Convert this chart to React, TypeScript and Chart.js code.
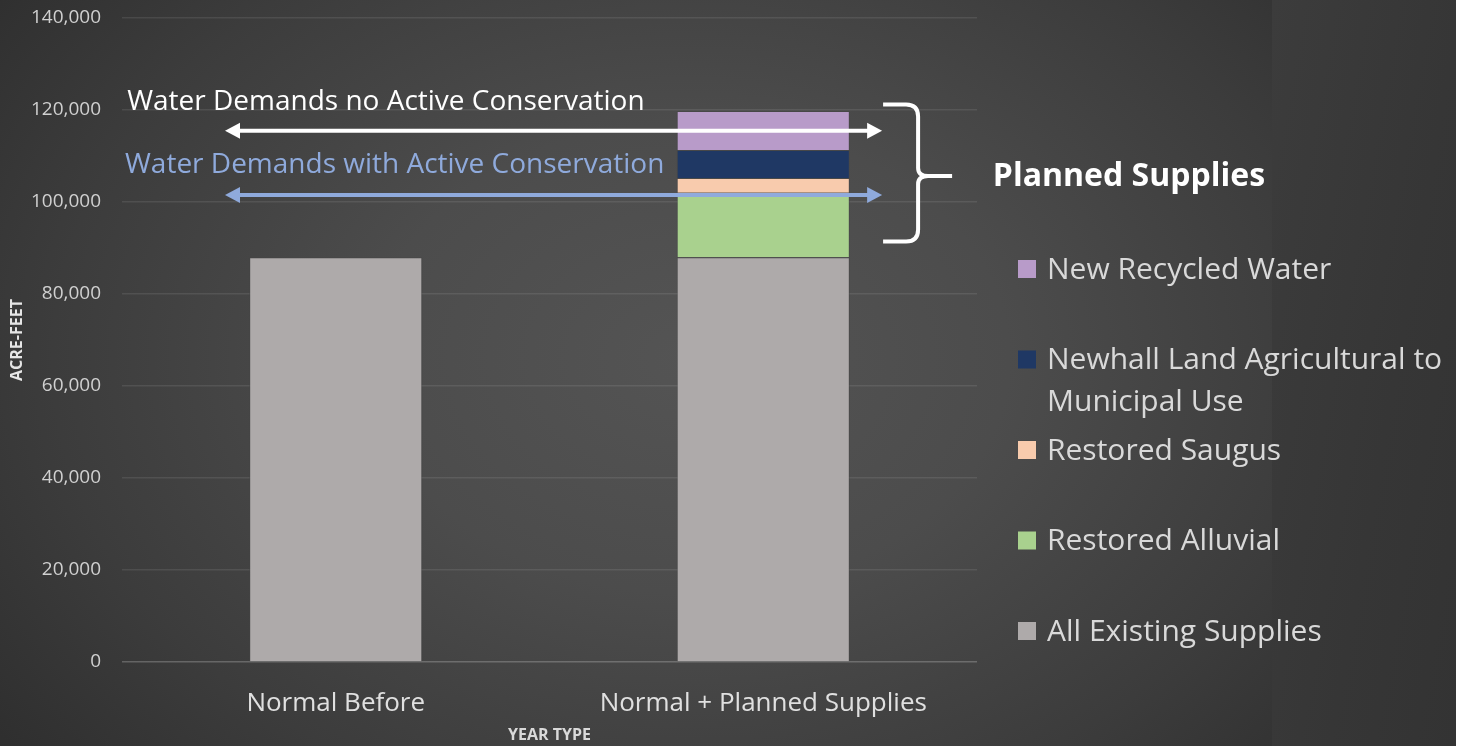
import React, { useEffect, useRef } from "react";
import { Chart, registerables } from "chart.js";

Chart.register(...registerables);

// ---------- data ----------
const categories = ["Normal Before", "Normal + Planned Supplies"];
const seriesNames = [
  "All Existing Supplies",
  "Restored Alluvial",
  "Restored Saugus",
  "Newhall Land Agricultural to Municipal Use",
  "New Recycled Water",
];
const legendLines = [
  ["All Existing Supplies"],
  ["Restored Alluvial"],
  ["Restored Saugus"],
  ["Newhall Land Agricultural to", "Municipal Use"],
  ["New Recycled Water"],
];
const allExistingSupplies = [88000, 88000];
const restoredAlluvial = [null, 14000];
const restoredSaugus = [null, 3200];
const newhallAgToMunicipal = [null, 6100];
const newRecycledWater = [null, 8500];
const seriesColors = ["#aeaaaa", "#a9d18e", "#f8cbad", "#1f3864", "#b89bc9"];

const yMin = 0;
const yMax = 140000;
const yStep = 20000;

const demandNoConservation = 115500;
const demandWithConservation = 101500;
const plannedBraceTop = 121200;
const plannedBraceBottom = 91400;
const noConservationLabel = "Water Demands no Active Conservation";
const withConservationLabel = "Water Demands with Active Conservation";
const plannedLabel = "Planned Supplies";
const xAxisTitle = "YEAR TYPE";
const yAxisTitle = "ACRE-FEET";

const FONT = "'Open Sans', 'Noto Sans', sans-serif";

function drawArrow(ctx: CanvasRenderingContext2D, x1: number, x2: number, y: number, color: string) {
  const head = 15;
  const half = 8;
  ctx.save();
  ctx.strokeStyle = color;
  ctx.fillStyle = color;
  ctx.lineWidth = 4;
  ctx.beginPath();
  ctx.moveTo(x1 + head - 2, y);
  ctx.lineTo(x2 - head + 2, y);
  ctx.stroke();
  ctx.beginPath();
  ctx.moveTo(x1, y);
  ctx.lineTo(x1 + head, y - half);
  ctx.lineTo(x1 + head, y + half);
  ctx.closePath();
  ctx.fill();
  ctx.beginPath();
  ctx.moveTo(x2, y);
  ctx.lineTo(x2 - head, y - half);
  ctx.lineTo(x2 - head, y + half);
  ctx.closePath();
  ctx.fill();
  ctx.restore();
}

const annotationPlugin = {
  id: "annotations",
  afterDraw(chart: any) {
    const ctx: CanvasRenderingContext2D = chart.ctx;
    const x = chart.scales.x;
    const y = chart.scales.y;
    const ax1 = x.getPixelForValue(-0.259);
    const ax2 = x.getPixelForValue(1.278);
    const yNo = y.getPixelForValue(demandNoConservation);
    const yWith = y.getPixelForValue(demandWithConservation);

    ctx.save();
    ctx.textBaseline = "middle";
    ctx.textAlign = "left";
    ctx.font = `28px ${FONT}`;
    ctx.fillStyle = "#ffffff";
    ctx.fillText(noConservationLabel, x.getPixelForValue(-0.488), yNo - 29);
    ctx.fillStyle = "#8faadc";
    ctx.fillText(withConservationLabel, x.getPixelForValue(-0.493), yWith - 30);
    ctx.restore();

    drawArrow(ctx, ax1, ax2, yNo, "#ffffff");
    drawArrow(ctx, ax1, ax2, yWith, "#8faadc");

    // curly brace
    const bx = ax2 + 1;
    const bt = y.getPixelForValue(plannedBraceTop);
    const bb = y.getPixelForValue(plannedBraceBottom);
    const bm = (bt + bb) / 2 + 3;
    const vx = bx + 35;
    const tip = bx + 69;
    ctx.save();
    ctx.strokeStyle = "#ffffff";
    ctx.lineWidth = 4;
    ctx.lineJoin = "round";
    ctx.beginPath();
    ctx.moveTo(bx, bt);
    ctx.lineTo(vx - 12, bt);
    ctx.quadraticCurveTo(vx, bt, vx, bt + 12);
    ctx.lineTo(vx, bm - 8);
    ctx.quadraticCurveTo(vx, bm, vx + 10, bm);
    ctx.lineTo(tip, bm);
    ctx.moveTo(vx + 10, bm);
    ctx.quadraticCurveTo(vx, bm, vx, bm + 8);
    ctx.lineTo(vx, bb - 12);
    ctx.quadraticCurveTo(vx, bb, vx - 12, bb);
    ctx.lineTo(bx, bb);
    ctx.stroke();
    ctx.restore();

    ctx.save();
    ctx.font = `bold 32px ${FONT}`;
    ctx.fillStyle = "#ffffff";
    ctx.textBaseline = "middle";
    ctx.fillText(plannedLabel, x.getPixelForValue(1.537), bm + 1);
    ctx.restore();

    // legend (top item = last dataset)
    const legendX = 1018;
    const legendY0 = 269;
    const legendGap = 90.5;
    ctx.save();
    ctx.font = `30px ${FONT}`;
    ctx.textBaseline = "middle";
    ctx.textAlign = "left";
    const n = chart.data.datasets.length;
    for (let k = 0; k < n; k++) {
      const i = n - 1 - k;
      const ds = chart.data.datasets[i];
      const cy = legendY0 + k * legendGap;
      ctx.fillStyle = ds.backgroundColor;
      ctx.fillRect(legendX, cy - 9, 18, 18);
      ctx.fillStyle = "#d9d9d9";
      const lines = legendLines[i];
      lines.forEach((ln, j) => ctx.fillText(ln, legendX + 29, cy + 1 + j * 42));
    }
    ctx.restore();
  },
};

export default function App() {
  const ref = useRef<HTMLCanvasElement>(null);

  useEffect(() => {
    const datasetValues = [
      allExistingSupplies,
      restoredAlluvial,
      restoredSaugus,
      newhallAgToMunicipal,
      newRecycledWater,
    ];
    const chart = new Chart(ref.current!, {
      type: "bar",
      data: {
        labels: categories,
        datasets: datasetValues.map((vals, i) => ({
          label: seriesNames[i],
          data: vals as any,
          backgroundColor: seriesColors[i],
          borderColor: "rgba(70,70,70,0.55)",
          borderWidth: 1,
          categoryPercentage: 1,
          barPercentage: 0.405,
        })),
      },
      options: {
        animation: false,
        responsive: false,
        devicePixelRatio: 1,
        layout: { padding: { left: 0, top: 18, right: 491, bottom: 0 } },
        plugins: {
          legend: { display: false },
          tooltip: { enabled: false },
        },
        scales: {
          x: {
            stacked: true,
            grid: { display: false, drawTicks: false },
            border: { display: false },
            ticks: {
              color: "#e0e0e0",
              font: { family: FONT, size: 26 },
              padding: 26,
            },
            title: {
              display: true,
              text: xAxisTitle,
              color: "#d9d9d9",
              font: { family: FONT, size: 16, weight: "bold" },
              padding: { top: 0, bottom: 1 },
            },
            afterFit: (s: any) => {
              s.height = 84;
              s.paddingLeft = 0;
              s.paddingRight = 0;
            },
          },
          y: {
            stacked: true,
            min: yMin,
            max: yMax,
            grid: {
              drawTicks: false,
              color: (c: any) => (c.tick && c.tick.value === 0 ? "rgba(255,255,255,0.22)" : "rgba(255,255,255,0.09)"),
              lineWidth: 1.5,
            },
            border: { display: false },
            ticks: {
              stepSize: yStep,
              color: "#d0d0d0",
              font: { family: FONT, size: 19 },
              padding: 21,
              callback: (v: any) => Number(v).toLocaleString("en-US"),
            },
            title: {
              display: true,
              text: yAxisTitle,
              color: "#e6e6e6",
              font: { family: FONT, size: 16, weight: "bold" },
              padding: { top: 8, bottom: 0 },
            },
            afterFit: (s: any) => {
              s.width = 122;
              s.paddingTop = 0;
              s.paddingBottom = 0;
            },
          },
        },
      },
      plugins: [annotationPlugin],
    });
    return () => chart.destroy();
  }, []);

  return (
    <div
      style={{
        position: "absolute",
        left: 0,
        top: 0,
        width: 1468,
        height: 746,
        overflow: "hidden",
        background:
          "radial-gradient(ellipse 62% 90% at 47% 48%, #545454 0%, #4c4c4c 35%, #3c3c3c 70%, #2c2c2c 100%)",
      }}
    >
      <div
        style={{
          position: "absolute",
          left: 1272,
          top: 0,
          width: 184,
          height: 746,
          background: "linear-gradient(100deg, #3c3c3c 0%, #363636 60%, #333333 100%)",
        }}
      />
      <div style={{ position: "absolute", left: 1456, top: 0, width: 12, height: 746, background: "#ffffff" }} />
      <canvas ref={ref} width={1468} height={746} style={{ position: "absolute", left: 0, top: 0, display: "block" }} />
    </div>
  );
}
